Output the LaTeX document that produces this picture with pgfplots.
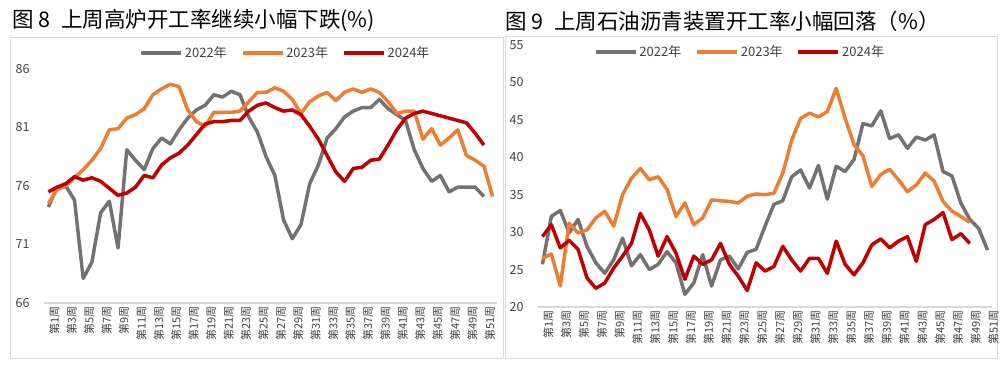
\documentclass[border=0pt]{standalone}
\usepackage{pgfplots}
\pgfplotsset{compat=1.18}
\usepackage{fontspec}
\setmainfont{Noto Sans CJK SC}
\definecolor{c22}{RGB}{118,113,113}
\definecolor{c23}{RGB}{237,125,49}
\definecolor{c24}{RGB}{192,0,0}
\definecolor{axgrey}{RGB}{217,217,217}
\definecolor{framegrey}{RGB}{217,217,217}
\definecolor{txt}{RGB}{64,64,64}
\pgfplotsset{
  base/.style={
    scale only axis,
    xmin=0.5,
    axis x line*=bottom, axis y line*=left,
    x axis line style={-, draw=axgrey, line width=1.2pt},
    y axis line style={draw=none},
    major tick length=0pt,
    xtick={1,3,...,51},
    xticklabels={第1周,第3周,第5周,第7周,第9周,第11周,第13周,第15周,第17周,第19周,第21周,第23周,第25周,第27周,第29周,第31周,第33周,第35周,第37周,第39周,第41周,第43周,第45周,第47周,第49周,第51周},
    xticklabel style={rotate=90, anchor=east, font=\fontsize{11}{12}\selectfont, text=txt, yshift=-6pt},
    yticklabel style={font=\fontsize{12.5}{14}\selectfont, text=txt, xshift=-11pt},
    /pgf/number format/assume math mode=true,
    legend columns=3,
    legend style={draw=none, fill=none, font=\fontsize{13}{15}\selectfont, text=txt, anchor=center,
      /tikz/every even column/.append style={column sep=12pt}},
    legend image code/.code={\draw[#1, line width=3.5pt] (0pt,0pt) -- (40pt,0pt);},
    every axis plot/.append style={line width=3.5pt, line join=round, no markers},
    clip=false,
  }
}
\begin{document}
\begin{tikzpicture}
\path[use as bounding box] (0pt,0pt) rectangle (1004pt,370pt);
% frames
\draw[framegrey, line width=1pt] (10pt,12pt) rectangle (503pt,332pt);
\draw[framegrey, line width=1pt] (505pt,12pt) rectangle (997pt,333pt);
% titles
\node[anchor=west, inner sep=0pt, font=\fontsize{21.5}{24}\selectfont] at (12pt,349pt) {图 8\hspace{0.5em}上周高炉开工率继续小幅下跌(\%)};
\node[anchor=west, inner sep=0pt, font=\fontsize{21.5}{24}\selectfont] at (505pt,349pt) {图 9\hspace{0.5em}上周石油沥青装置开工率小幅回落（\%）};

\begin{axis}[base, at={(44pt,67pt)}, anchor=south west,
  width=453pt, height=234pt, xmax=52.5, ymin=66, ymax=86,
  ytick={66,71,76,81,86},
  legend style={at={(0.533,1.068)}}]
\addplot[c22] coordinates {(1,74.2)(2,75.9)(3,76.0)(4,74.8)(5,68.1)(6,69.5)(7,73.7)(8,74.7)(9,70.7)(10,79.1)(11,78.2)(12,77.4)(13,79.2)(14,80.1)(15,79.6)(16,80.8)(17,81.8)(18,82.5)(19,82.9)(20,83.8)(21,83.6)(22,84.1)(23,83.8)(24,81.9)(25,80.6)(26,78.5)(27,76.9)(28,73.1)(29,71.5)(30,72.7)(31,76.2)(32,77.8)(33,80.1)(34,80.9)(35,81.9)(36,82.4)(37,82.7)(38,82.7)(39,83.4)(40,82.6)(41,82.1)(42,81.6)(43,79.1)(44,77.5)(45,76.4)(46,76.9)(47,75.5)(48,75.9)(49,75.9)(50,75.9)(51,75.1)};
\addplot[c23] coordinates {(1,74.5)(2,75.7)(3,76.0)(4,76.7)(5,77.4)(6,78.2)(7,79.2)(8,80.8)(9,80.9)(10,81.8)(11,82.1)(12,82.6)(13,83.8)(14,84.3)(15,84.7)(16,84.5)(17,82.5)(18,81.5)(19,81.1)(20,82.3)(21,82.3)(22,82.3)(23,82.4)(24,83.2)(25,84.0)(26,84.0)(27,84.4)(28,84.1)(29,83.4)(30,82.2)(31,83.2)(32,83.7)(33,84.0)(34,83.3)(35,84.0)(36,84.3)(37,84.0)(38,84.3)(39,84.0)(40,83.2)(41,82.2)(42,82.4)(43,82.4)(44,80.0)(45,80.9)(46,79.5)(47,80.1)(48,80.8)(49,78.6)(50,78.2)(51,77.7)(52,75.1)};
\addplot[c24] coordinates {(1,75.5)(2,75.9)(3,76.2)(4,76.8)(5,76.5)(6,76.7)(7,76.4)(8,75.8)(9,75.2)(10,75.4)(11,75.9)(12,76.9)(13,76.7)(14,77.8)(15,78.4)(16,78.8)(17,79.5)(18,80.4)(19,81.3)(20,81.5)(21,81.5)(22,81.6)(23,81.6)(24,82.4)(25,82.9)(26,83.1)(27,82.7)(28,82.4)(29,82.5)(30,82.1)(31,81.1)(32,80.0)(33,78.6)(34,77.2)(35,76.4)(36,77.5)(37,77.6)(38,78.2)(39,78.3)(40,79.5)(41,80.8)(42,81.8)(43,82.2)(44,82.4)(45,82.2)(46,82.0)(47,81.8)(48,81.6)(49,81.4)(50,80.5)(51,79.5)};
\legend{2022年,2023年,2024年}
\end{axis}

\begin{axis}[base, at={(538pt,63pt)}, anchor=south west,
  width=454pt, height=262pt, xmax=51.5, ymin=20, ymax=55,
  ytick={20,25,...,55},
  legend style={at={(0.445,0.973)}}]
\addplot[c22] coordinates {(1,25.7)(2,32.1)(3,32.9)(4,29.9)(5,31.7)(6,28.1)(7,25.9)(8,24.5)(9,26.3)(10,29.2)(11,25.5)(12,27.0)(13,25.0)(14,25.7)(15,27.4)(16,25.9)(17,21.7)(18,23.2)(19,27.0)(20,22.8)(21,26.3)(22,26.8)(23,25.1)(24,27.3)(25,27.7)(26,30.8)(27,33.7)(28,34.2)(29,37.4)(30,38.3)(31,35.9)(32,38.9)(33,34.4)(34,38.8)(35,38.1)(36,39.7)(37,44.5)(38,44.2)(39,46.2)(40,42.5)(41,43.0)(42,41.2)(43,42.7)(44,42.3)(45,43.0)(46,38.1)(47,37.5)(48,33.9)(49,31.7)(50,30.5)(51,27.6)};
\addplot[c23] coordinates {(1,26.5)(2,27.1)(3,22.8)(4,31.2)(5,29.9)(6,30.3)(7,31.9)(8,32.8)(9,30.8)(10,35.0)(11,37.2)(12,38.5)(13,37.0)(14,37.4)(15,35.7)(16,32.1)(17,33.9)(18,31.0)(19,31.9)(20,34.3)(21,34.2)(22,34.1)(23,33.9)(24,34.8)(25,35.1)(26,35.0)(27,35.2)(28,37.9)(29,42.3)(30,45.2)(31,45.9)(32,45.4)(33,46.1)(34,49.2)(35,45.2)(36,41.7)(37,40.2)(38,36.1)(39,37.7)(40,38.4)(41,37.0)(42,35.4)(43,36.3)(44,37.9)(45,36.8)(46,34.1)(47,32.8)(48,32.1)(49,31.3)};
\addplot[c24] coordinates {(1,29.4)(2,31.0)(3,27.9)(4,28.9)(5,27.7)(6,23.9)(7,22.5)(8,23.2)(9,25.2)(10,26.8)(11,28.5)(12,32.5)(13,30.3)(14,26.8)(15,29.4)(16,27.2)(17,23.7)(18,26.8)(19,25.7)(20,26.3)(21,28.5)(22,25.7)(23,24.1)(24,22.2)(25,25.9)(26,24.8)(27,25.4)(28,28.1)(29,26.3)(30,24.8)(31,26.5)(32,26.5)(33,24.5)(34,28.8)(35,25.7)(36,24.3)(37,25.9)(38,28.3)(39,29.1)(40,27.9)(41,28.8)(42,29.4)(43,26.1)(44,31.0)(45,31.7)(46,32.6)(47,29.0)(48,29.8)(49,28.5)};
\legend{2022年,2023年,2024年}
\end{axis}
\end{tikzpicture}
\end{document}
